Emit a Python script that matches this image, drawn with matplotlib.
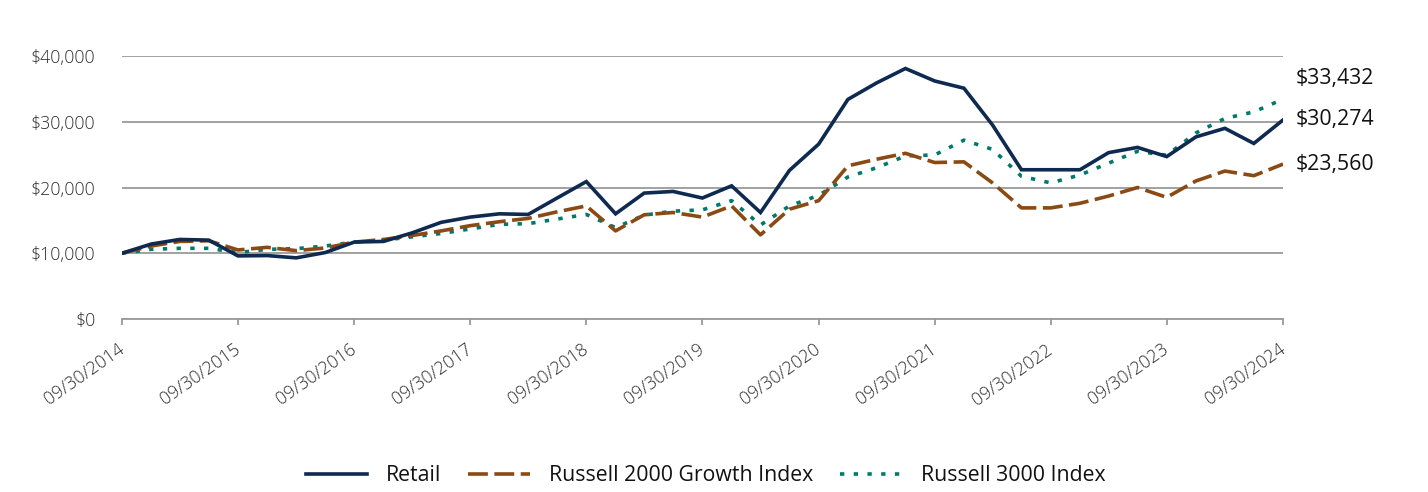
import matplotlib
matplotlib.use("Agg")
import matplotlib.pyplot as plt
import matplotlib.transforms as mtransforms
import numpy as np
import pandas as pd
from matplotlib.ticker import FuncFormatter

plt.rcParams['font.family'] = ['Open Sans', 'DejaVu Sans']

quarters = pd.date_range('2014-09-30', '2024-09-30', freq='QE')
tick_labels = ['09/30/2014', '09/30/2015', '09/30/2016', '09/30/2017', '09/30/2018',
               '09/30/2019', '09/30/2020', '09/30/2021', '09/30/2022', '09/30/2023',
               '09/30/2024']

retail = [10000, 11400, 12100, 12000, 9600, 9650, 9300, 10100, 11700, 11800,
          13100, 14700, 15500, 16000, 15900, 18400, 20900, 16000, 19150, 19400,
          18400, 20250, 16200, 22600, 26600, 33400, 35900, 38100, 36200, 35100,
          29500, 22700, 22700, 22700, 25300, 26100, 24700, 27700, 29000, 26700,
          30274]
r2000g = [10000, 11100, 11800, 11900, 10500, 10900, 10400, 10800, 11700, 12100,
          12700, 13400, 14200, 14800, 15300, 16300, 17200, 13400, 15850, 16200,
          15500, 17200, 12800, 16700, 18000, 23300, 24300, 25200, 23800, 23900,
          20700, 16900, 16900, 17600, 18700, 20000, 18500, 21000, 22500, 21800,
          23560]
r3000 = [10000, 10600, 10750, 10750, 10100, 10600, 10700, 11100, 11700, 12000,
         12500, 13000, 13700, 14400, 14500, 15200, 15900, 13900, 15800, 16400,
         16600, 18000, 14300, 17200, 18800, 21600, 23000, 24800, 24950, 27200,
         25800, 21700, 20700, 21900, 23700, 25500, 24900, 28300, 30500, 31500,
         33432]
series_names = ['Retail', 'Russell 2000 Growth Index', 'Russell 3000 Index']
end_labels = ['$30,274', '$23,560', '$33,432']

fig = plt.figure(figsize=(14.28, 4.92), dpi=100)
ax = fig.add_axes([0.0854, 0.3516, 0.8131, 0.5346])

c_retail = '#0E2A50'
c_r2g = '#8B4A14'
c_r3 = '#00796B'

ax.plot(quarters, retail, color=c_retail, lw=2.6, label=series_names[0], zorder=4,
        solid_joinstyle='miter')
ax.plot(quarters, r2000g, color=c_r2g, lw=2.6, label=series_names[1], zorder=3,
        dashes=(5.5, 1.8))
ax.plot(quarters, r3000, color=c_r3, lw=2.6, label=series_names[2], zorder=2,
        dashes=(1.2, 2.6))

ax.set_ylim(0, 40000)
ax.set_yticks([0, 10000, 20000, 30000, 40000])
ax.yaxis.set_major_formatter(FuncFormatter(lambda v, p: '${:,.0f}'.format(v)))
ax.set_xlim(quarters[0], quarters[-1])
year_ticks = quarters[::4]
ax.set_xticks(year_ticks)
ax.set_xticklabels(tick_labels, rotation=35, ha='right', rotation_mode='anchor')

ax.grid(axis='y', color='#9A9A9A', lw=1.3)
ax.set_axisbelow(True)
for s in ['top', 'right', 'left']:
    ax.spines[s].set_visible(False)
ax.spines['bottom'].set_color('#9A9A9A')
ax.spines['bottom'].set_linewidth(1.3)
ax.tick_params(axis='x', length=4.5, width=1.3, color='#9A9A9A', labelsize=12.8,
               labelcolor='#2E2E2E', pad=11)
ax.tick_params(axis='y', length=0, labelsize=12.8, labelcolor='#2E2E2E', pad=19)
for lab in ax.get_xticklabels() + ax.get_yticklabels():
    lab.set_fontweight('light')
offset = mtransforms.ScaledTranslation(-5 / 100, 0, fig.dpi_scale_trans)
for lab in ax.get_xticklabels():
    lab.set_transform(lab.get_transform() + offset)

# end labels
ends = [(retail[-1], end_labels[0], 0), (r2000g[-1], end_labels[1], 0),
        (r3000[-1], end_labels[2], 15)]
for val, txt, dy in ends:
    ax.annotate(txt, xy=(quarters[-1], val), xytext=(9, dy), textcoords='offset points',
                ha='left', va='center', fontsize=15.3, color='#111111',
                annotation_clip=False)

leg = fig.legend(loc='center', bbox_to_anchor=(0.494, 0.033), ncol=3, frameon=False,
                 fontsize=15.3, handlelength=2.9, handletextpad=0.9, columnspacing=1.25)
for t in leg.get_texts():
    t.set_color('#111111')

fig.savefig('out.png', dpi=100)
